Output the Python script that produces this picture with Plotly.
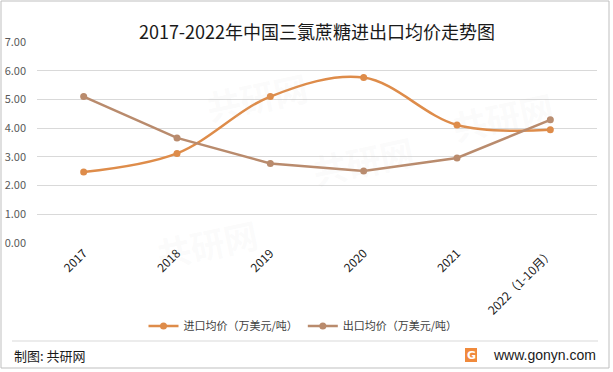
import plotly.graph_objects as go

categories = ["2017", "2018", "2019", "2020", "2021", "2022（1-10月）"]
import_price = [2.47, 3.12, 5.10, 5.76, 4.11, 3.94]
export_price = [5.10, 3.66, 2.77, 2.51, 2.96, 4.29]
y_ticks = [0, 1, 2, 3, 4, 5, 6, 7]

W, H = 613, 372
L, R, T, B = 37, 16, 42, 129
pw, ph = W - L - R, H - T - B

def px(x):
    return (x - L) / pw

def py(y):
    return (H - B - y) / ph

FONT = "Noto Sans CJK SC, Noto Sans, sans-serif"

fig = go.Figure()
fig.add_trace(go.Scatter(
    x=categories, y=import_price, name="进口均价（万美元/吨）",
    mode="lines+markers", line=dict(color="#DE8C4A", width=2.5, shape="spline", smoothing=1.0),
    marker=dict(size=7, color="#DE8C4A"),
))
fig.add_trace(go.Scatter(
    x=categories, y=export_price, name="出口均价（万美元/吨）",
    mode="lines+markers", line=dict(color="#B98B6D", width=2.5),
    marker=dict(size=7, color="#B98B6D"),
))

fig.update_layout(
    width=W, height=H,
    margin=dict(l=L, r=R, t=T, b=B, autoexpand=False),
    paper_bgcolor="white", plot_bgcolor="white",
    font=dict(family=FONT, size=11, color="#595959"),
    title=dict(text="2017-2022年中国三氯蔗糖进出口均价走势图", x=0.5, xref="paper",
               y=1 - 33 / H, yanchor="middle", xanchor="center",
               font=dict(size=18, color="#1a1a1a", family=FONT)),
    showlegend=True,
    legend=dict(orientation="h", x=px(303), y=py(326), xanchor="center", yanchor="middle",
                font=dict(size=11, color="#404040"), itemwidth=30,
                bgcolor="rgba(0,0,0,0)", tracegroupgap=0),
    xaxis=dict(type="category", range=[-0.5, 5.5], showgrid=False, showline=False,
               ticks="", tickangle=-45, tickfont=dict(size=12, color="#1a1a1a")),
    yaxis=dict(range=[0, 7], tickvals=y_ticks, tickformat=".2f", showgrid=True,
               gridcolor="#D9D9D9", gridwidth=1, zeroline=False, showline=False,
               ticks="", ticklabelstandoff=10, tickfont=dict(size=11, color="#595959")),
)

# outer border
fig.add_shape(type="rect", xref="paper", yref="paper", x0=px(1), x1=px(W - 4), y0=py(1), y1=py(H - 4),
              line=dict(color="#BFBFBF", width=1), fillcolor="rgba(0,0,0,0)", layer="below")
# footer separator
fig.add_shape(type="line", xref="paper", yref="paper", x0=px(12), x1=px(598), y0=py(341), y1=py(341),
              line=dict(color="#D9D9D9", width=1))
# logo box
fig.add_shape(type="rect", xref="paper", yref="paper", x0=px(465), x1=px(477), y0=py(348), y1=py(362),
              line=dict(width=0), fillcolor="#F08A3C", layer="below")
fig.add_annotation(text="<b>G</b>", xref="paper", yref="paper", x=px(471), y=py(355),
                   xanchor="center", yanchor="middle",
                   showarrow=False, font=dict(size=11, color="white", family="DejaVu Sans"))

fig.add_annotation(text="制图: 共研网", xref="paper", yref="paper", x=px(12), y=py(355),
                   xanchor="left", yanchor="middle", showarrow=False,
                   font=dict(size=13, color="#1a1a1a", family=FONT))
fig.add_annotation(text="www.gonyn.com", xref="paper", yref="paper", x=px(598), y=py(355),
                   xanchor="right", yanchor="middle", showarrow=False,
                   font=dict(size=14, color="#1a1a1a", family="Liberation Sans, Arial, sans-serif"))

# faint watermarks
for (wx, wy) in [(200, 60), (420, 160), (150, 280), (560, 80)]:
    fig.add_annotation(text="<b>共研网</b>", xref="paper", yref="paper", x=px(wx), y=py(wy),
                       showarrow=False, textangle=-12,
                       font=dict(size=34, color="rgba(200,200,200,0.08)", family=FONT))

fig.write_html("out.html", config={"displayModeBar": False},
               post_script="document.body.style.margin='0';")
